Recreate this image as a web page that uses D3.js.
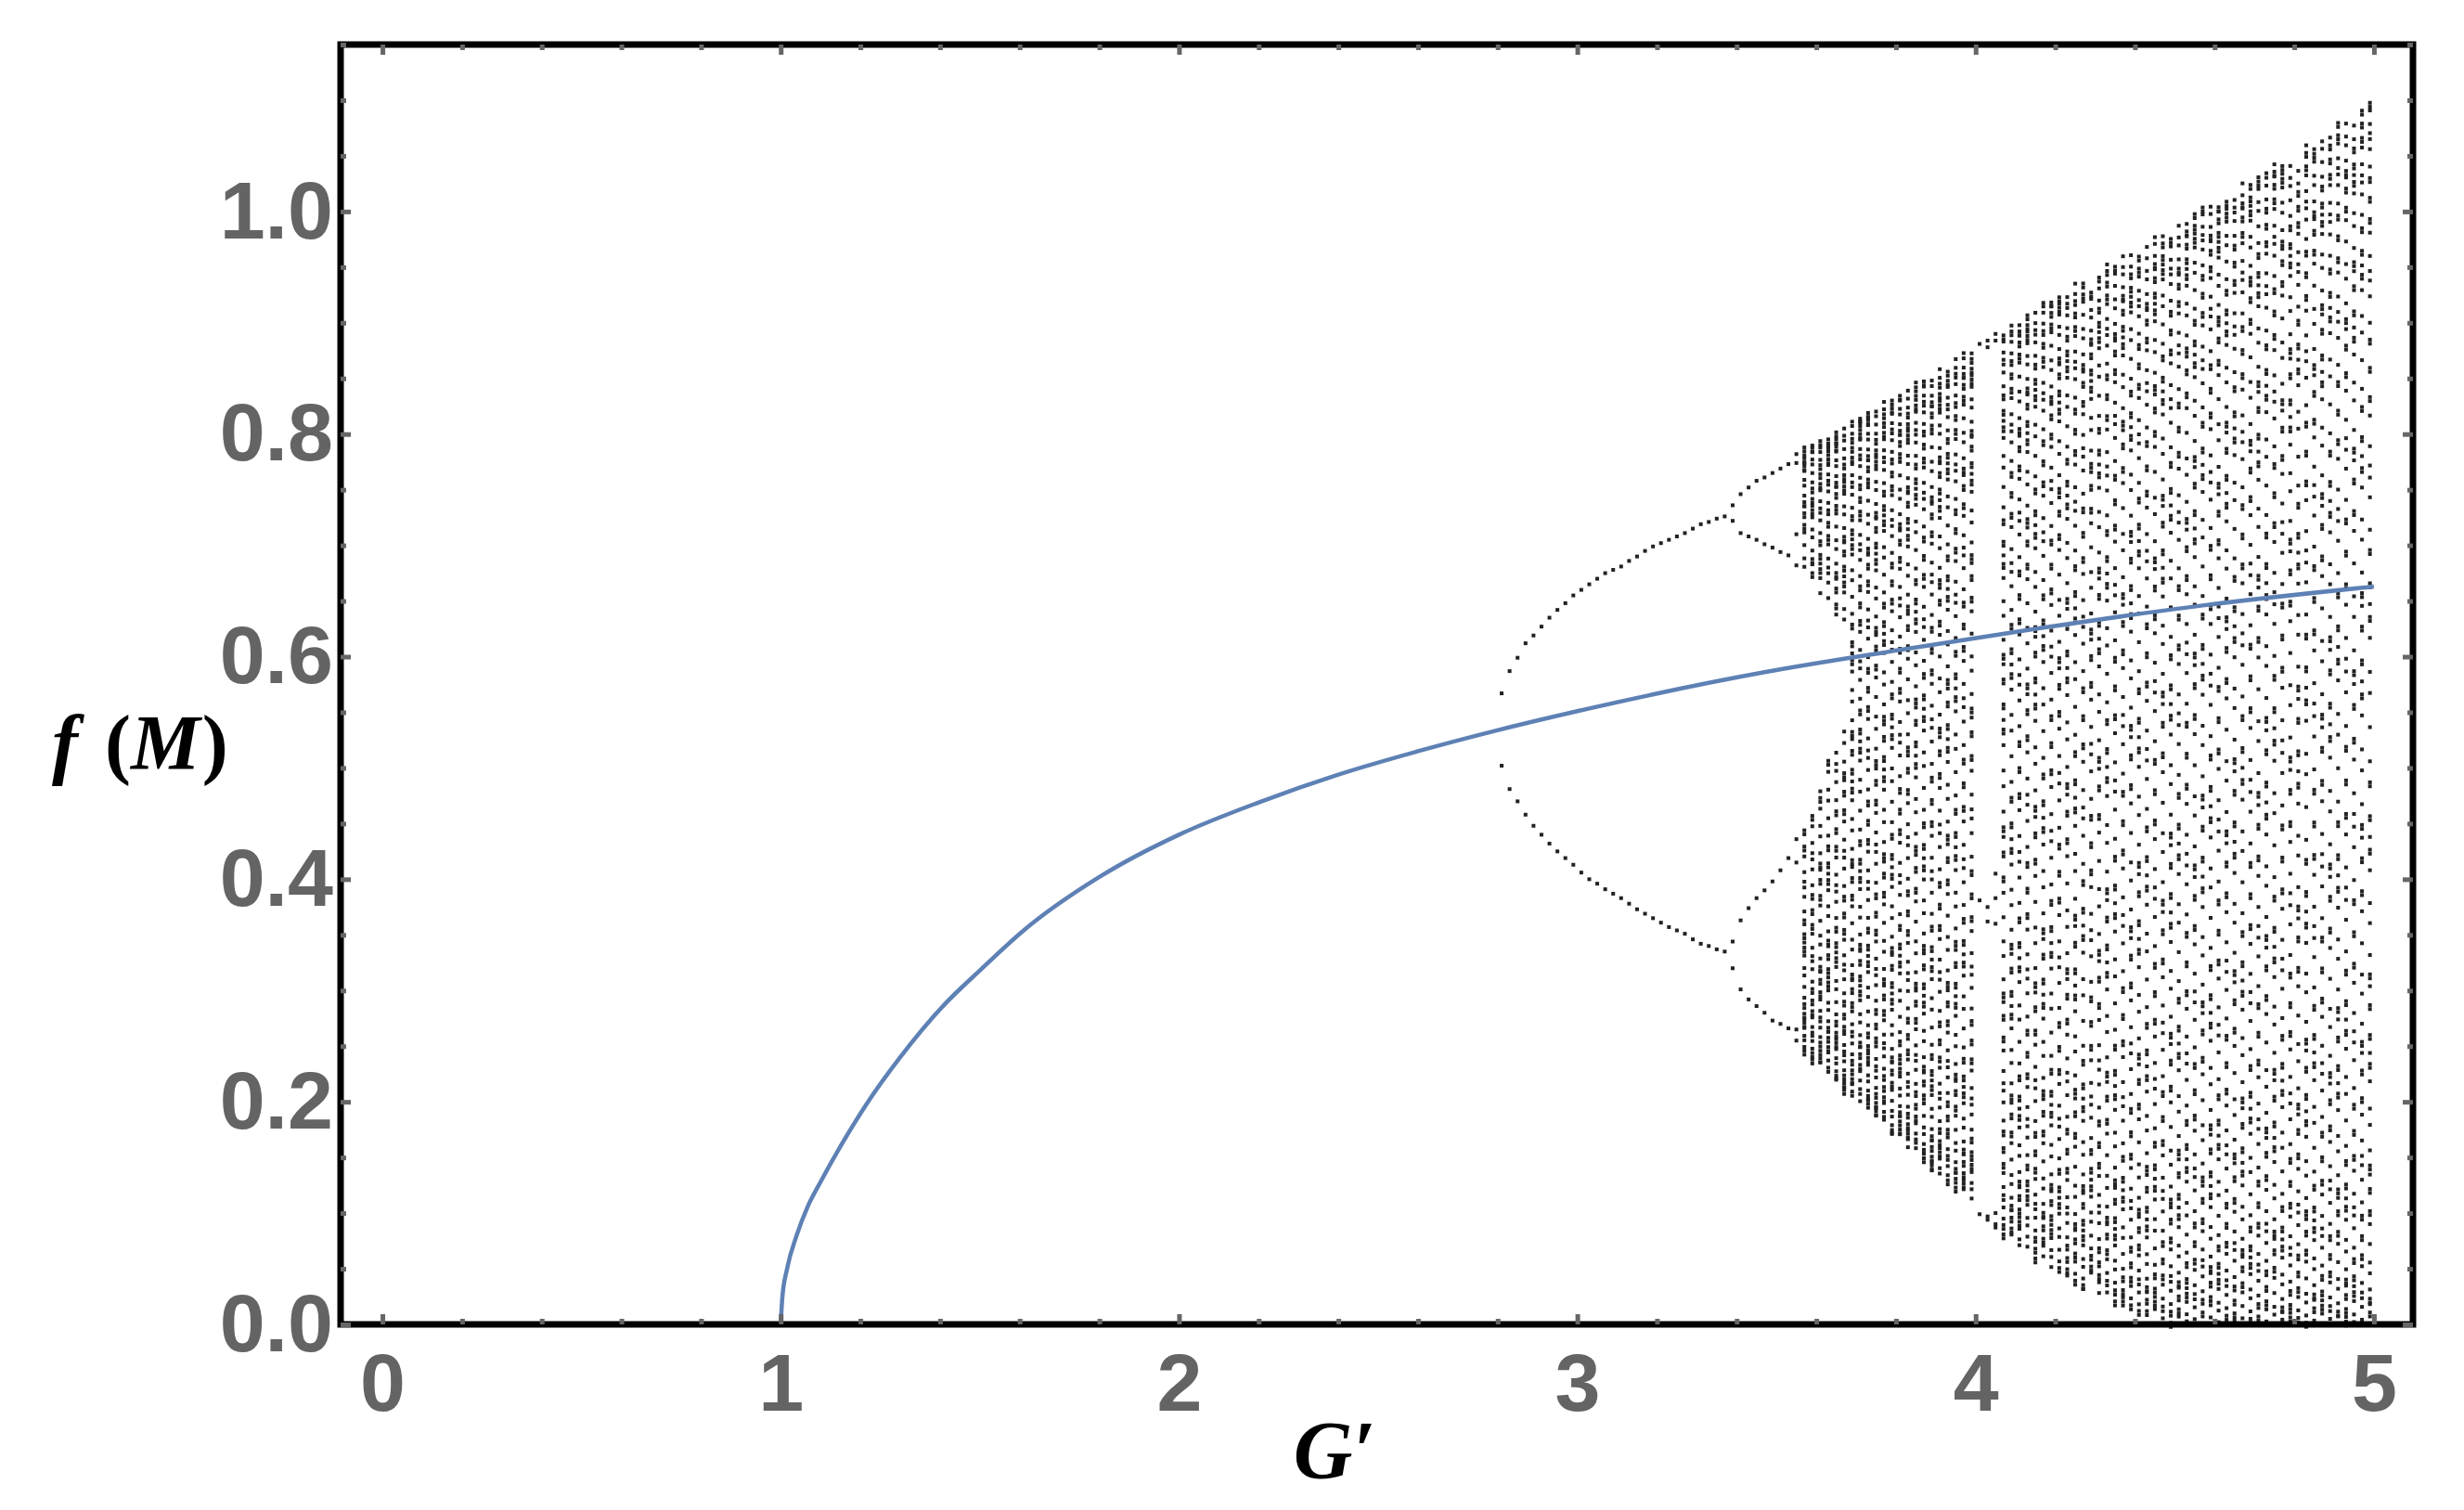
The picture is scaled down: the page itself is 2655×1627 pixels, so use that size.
<!DOCTYPE html>
<html>
<head>
<meta charset="utf-8">
<script src="https://cdn.jsdelivr.net/npm/d3@7"></script>
<style>
  html, body { margin: 0; padding: 0; background: #fff; }
  svg { display: block; }
</style>
</head>
<body>
<div id="chart"></div>
<script>
/*
   Bifurcation diagram f(M) vs G'
   values
*/

// blue fixed-point curve
var curveG = [1.000, 1.004, 1.016, 1.040, 1.068, 1.100, 1.150, 1.210, 1.300, 1.410, 1.500, 1.610,
              1.800, 2.000, 2.200, 2.400, 2.600, 2.790, 3.000, 3.470, 3.810, 4.170, 4.570, 5.000];
var curveF = [0.000, 0.024, 0.050, 0.080, 0.106, 0.128, 0.160, 0.195, 0.240, 0.287, 0.318, 0.354,
              0.402, 0.440, 0.469, 0.494, 0.515, 0.533, 0.551, 0.586, 0.606, 0.626, 0.646, 0.663];

// period-2 branch
var p2G  = [2.81, 2.83, 2.85, 2.87, 2.89, 2.91, 2.93, 2.95, 2.97, 2.99, 3.01, 3.03, 3.05, 3.07, 3.09,
            3.11, 3.13, 3.15, 3.17, 3.19, 3.21, 3.23, 3.25, 3.27, 3.29, 3.31, 3.33, 3.35, 3.37];
var p2Up = [0.567, 0.587, 0.599, 0.612, 0.619, 0.627, 0.635, 0.642, 0.648, 0.655, 0.660, 0.665, 0.670, 0.675, 0.678,
            0.681, 0.686, 0.690, 0.695, 0.699, 0.702, 0.705, 0.708, 0.711, 0.715, 0.719, 0.721, 0.724, 0.726];
var p2Lo = [0.502, 0.481, 0.470, 0.458, 0.448, 0.440, 0.432, 0.425, 0.419, 0.413, 0.406, 0.400, 0.396, 0.391, 0.387,
            0.383, 0.378, 0.373, 0.369, 0.365, 0.361, 0.357, 0.354, 0.351, 0.346, 0.342, 0.340, 0.337, 0.335];

// period-4 branch (four values per column) and the period-8 column
var p4G = [3.39, 3.41, 3.43, 3.45, 3.47, 3.49, 3.51, 3.53];
var p4A = [0.736, 0.746, 0.752, 0.758, 0.761, 0.765, 0.769, 0.773];
var p4B = [0.722, 0.711, 0.708, 0.705, 0.701, 0.698, 0.694, 0.691];
var p4C = [0.344, 0.363, 0.374, 0.383, 0.390, 0.398, 0.408, 0.419];
var p4D = [0.320, 0.301, 0.292, 0.286, 0.280, 0.273, 0.270, 0.266];
var p8G = 3.55;
var p8Vals = [0.782, 0.774, 0.710, 0.682, 0.436, 0.415, 0.265, 0.255];

// periodic window near G' = 4
var winG = [4.01, 4.03, 4.05];
var winVals = [[0.881, 0.381, 0.099],
               [0.884, 0.878, 0.375, 0.362, 0.097, 0.094],
               [0.890, 0.884, 0.405, 0.383, 0.360, 0.100, 0.090, 0.087]];

// chaotic columns: upper and lower edge of the dot cloud
var chaosG = [3.57, 3.59, 3.61, 3.63, 3.65, 3.67, 3.69, 3.71, 3.73, 3.75, 3.77, 3.79, 3.81, 3.83, 3.85,
              3.87, 3.89, 3.91, 3.93, 3.95, 3.97, 3.99,
              4.07, 4.09, 4.11, 4.13, 4.15, 4.17, 4.19, 4.21, 4.23, 4.25, 4.27, 4.29, 4.31, 4.33, 4.35,
              4.37, 4.39, 4.41, 4.43, 4.45, 4.47, 4.49, 4.51, 4.53, 4.55, 4.57, 4.59, 4.61, 4.63, 4.65,
              4.67, 4.69, 4.71, 4.73, 4.75, 4.77, 4.79, 4.81, 4.83, 4.85, 4.87, 4.89, 4.91, 4.93, 4.95,
              4.97, 4.99];
var chaosTop = [0.790, 0.792, 0.795, 0.799, 0.802, 0.808, 0.813, 0.816, 0.820, 0.824, 0.829, 0.833, 0.836, 0.841, 0.847,
                0.851, 0.855, 0.861, 0.862, 0.869, 0.873, 0.876,
                0.896, 0.900, 0.904, 0.908, 0.914, 0.918, 0.922, 0.925, 0.929, 0.936, 0.940, 0.930, 0.944, 0.954, 0.956,
                0.960, 0.965, 0.968, 0.971, 0.978, 0.983, 0.985, 0.991, 0.997, 1.000, 1.004, 1.009, 1.009, 1.012, 1.018,
                1.027, 1.030, 1.031, 1.039, 1.045, 1.048, 1.042, 1.042, 1.063, 1.060, 1.065, 1.073, 1.080, 1.084, 1.087,
                1.094, 1.099];
var chaosBot = [0.246, 0.237, 0.231, 0.225, 0.218, 0.210, 0.205, 0.199, 0.193, 0.185, 0.180, 0.171, 0.170, 0.157, 0.152,
                0.146, 0.138, 0.131, 0.128, 0.120, 0.114, 0.109,
                0.080, 0.075, 0.069, 0.066, 0.059, 0.056, 0.050, 0.044, 0.041, 0.031, 0.031, 0.046, 0.026, 0.021, 0.017,
                0.015, 0.012, 0.011, 0.009, 0.005, 0.001, 0.001, 0.001, 0.001, 0.001, 0.001, 0.001, 0.001, 0.001, 0.001,
                0.001, 0.001, 0.001, 0.001, 0.001, 0.001, 0.001, 0.001, 0.001, 0.001, 0.001, 0.001, 0.001, 0.001, 0.001,
                0.001, 0.001];
// empty gap between the two bands just after chaos starts
var gapG  = [3.57, 3.59, 3.61, 3.63, 3.65, 3.67];
var gapLo = [0.450, 0.470, 0.480, 0.510, 0.525, 0.545];
var gapHi = [0.670, 0.665, 0.650, 0.645, 0.635, 0.620];

var xMajor = [0, 1, 2, 3, 4, 5];
var yMajor = [0, 0.2, 0.4, 0.6, 0.8, 1.0];

var W = 2655, H = 1627;
var frame = {left: 367, right: 2600, top: 48, bottom: 1427};

var x = d3.scaleLinear().domain([-0.105, 5.098]).range([frame.left, frame.right]);
var y = d3.scaleLinear().domain([0, 1.15]).range([frame.bottom, frame.top]);

var svg = d3.select("#chart").append("svg")
    .attr("width", W)
    .attr("height", H);

// collect the black dots
var dots = [];
p2G.forEach(function(g, i) {
    dots.push([g, p2Up[i]]);
    dots.push([g, p2Lo[i]]);
});
p4G.forEach(function(g, i) {
    [p4A[i], p4B[i], p4C[i], p4D[i]].forEach(function(v) { dots.push([g, v]); });
});
p8Vals.forEach(function(v) { dots.push([p8G, v]); });
winG.forEach(function(g, i) {
    winVals[i].forEach(function(v) { dots.push([g, v]); });
});

// the individual iterates of the chaotic columns can't be read one by one,
// so each column is filled evenly between its read edges (denser toward the edges)
var perColumn = 64;
chaosG.forEach(function(g, j) {
    var top = chaosTop[j], bot = chaosBot[j];
    var gi = gapG.indexOf(g);
    for (var k = 0; k < perColumn; k++) {
        var u = (k * 0.6180339887 + j * 0.7548776662) % 1;
        var s = 0.45 * u + 0.55 * (1 - Math.cos(Math.PI * u)) / 2;
        var v = bot + (top - bot) * s;
        if (gi >= 0 && v > gapLo[gi] && v < gapHi[gi]) continue;
        dots.push([g, v]);
        if (k % 3 === 0) dots.push([g, v - 0.0036]);
    }
});

var ds = 4;
svg.append("g").attr("class", "dots")
  .selectAll("rect")
    .data(dots)
    .enter()
  .append("rect")
    .attr("x", function(d) { return x(d[0]) - ds / 2; })
    .attr("y", function(d) { return y(d[1]) - ds / 2; })
    .attr("width", ds)
    .attr("height", ds)
    .attr("fill", "#222");

// blue curve on top of the dots
var curvePts = curveG.map(function(g, i) { return [g, curveF[i]]; });
var line = d3.line()
    .x(function(d) { return x(d[0]); })
    .y(function(d) { return y(d[1]); })
    .curve(d3.curveMonotoneX);

svg.append("path")
    .datum(curvePts)
    .attr("d", line)
    .attr("fill", "none")
    .attr("stroke", "#5e81b5")
    .attr("stroke-width", 4.5);

// frame
svg.append("rect")
    .attr("x", frame.left)
    .attr("y", frame.top)
    .attr("width", frame.right - frame.left)
    .attr("height", frame.bottom - frame.top)
    .attr("fill", "none")
    .attr("stroke", "#000")
    .attr("stroke-width", 7);

// ticks
var xMinor = d3.range(0, 5.001, 0.2).filter(function(v) { return Math.abs(v - Math.round(v)) > 1e-6; });
var yMinor = d3.range(0, 1.1501, 0.05).filter(function(v) {
    return Math.abs(v * 5 - Math.round(v * 5)) > 1e-6 || v > 1.01;
});

var fmtY = d3.format(".1f");
var fmtX = d3.format("d");

function styleAxis(g, width) {
    g.select(".domain").remove();
    g.selectAll("line").attr("stroke", "#666").attr("stroke-width", width);
}

var gx = svg.append("g").attr("transform", "translate(0," + frame.bottom + ")")
    .call(d3.axisBottom(x).tickValues(xMajor).tickSize(-11).tickPadding(31).tickFormat(fmtX));
styleAxis(gx, 5);
svg.append("g").attr("transform", "translate(0," + frame.bottom + ")")
    .call(d3.axisBottom(x).tickValues(xMinor).tickSize(-6).tickFormat(""))
    .call(styleAxis, 5);

svg.append("g").attr("transform", "translate(0," + frame.top + ")")
    .call(d3.axisTop(x).tickValues(xMajor).tickSize(-11).tickFormat(""))
    .call(styleAxis, 5);
svg.append("g").attr("transform", "translate(0," + frame.top + ")")
    .call(d3.axisTop(x).tickValues(xMinor).tickSize(-6).tickFormat(""))
    .call(styleAxis, 5);

var gy = svg.append("g").attr("transform", "translate(" + frame.left + ",0)")
    .call(d3.axisLeft(y).tickValues(yMajor).tickSize(-11).tickPadding(8).tickFormat(fmtY));
styleAxis(gy, 5);
svg.append("g").attr("transform", "translate(" + frame.left + ",0)")
    .call(d3.axisLeft(y).tickValues(yMinor).tickSize(-6).tickFormat(""))
    .call(styleAxis, 5);

svg.append("g").attr("transform", "translate(" + frame.right + ",0)")
    .call(d3.axisRight(y).tickValues(yMajor).tickSize(-11).tickFormat(""))
    .call(styleAxis, 5);
svg.append("g").attr("transform", "translate(" + frame.right + ",0)")
    .call(d3.axisRight(y).tickValues(yMinor).tickSize(-6).tickFormat(""))
    .call(styleAxis, 5);

[gx, gy].forEach(function(g) {
    g.selectAll("text")
        .attr("fill", "#646464")
        .style("font-family", "'Liberation Sans', Arial, sans-serif")
        .style("font-weight", "bold")
        .style("font-size", "88px");
});

// axis labels
var yLab = svg.append("text")
    .attr("x", 56)
    .attr("y", 829)
    .style("font-family", "'Liberation Serif', 'Times New Roman', serif")
    .style("font-weight", "bold")
    .style("font-size", "84px")
    .attr("fill", "#000");
yLab.append("tspan").style("font-style", "italic").text("f");
yLab.append("tspan").attr("dx", 8).text(" (");
yLab.append("tspan").style("font-style", "italic").text("M");
yLab.append("tspan").attr("dx", 2).text(")");

svg.append("text")
    .attr("x", 1438)
    .attr("y", 1592)
    .style("text-anchor", "middle")
    .style("font-family", "'Liberation Serif', 'Times New Roman', serif")
    .style("font-weight", "bold")
    .style("font-style", "italic")
    .style("font-size", "88px")
    .attr("fill", "#000")
    .text("G\u2032");
</script>
</body>
</html>
